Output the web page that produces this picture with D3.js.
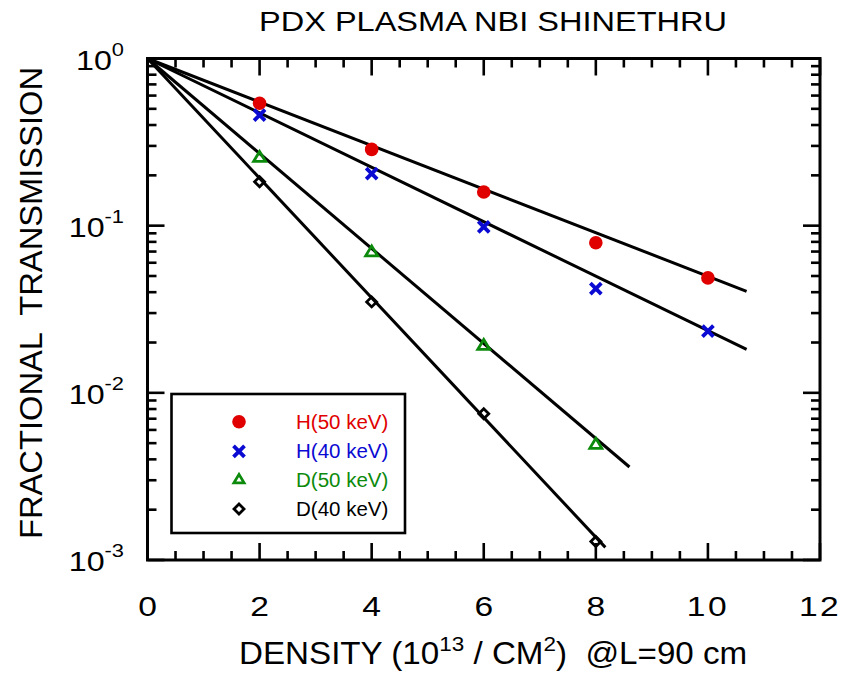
<!DOCTYPE html>
<html><head><meta charset="utf-8">
<script src="https://cdn.jsdelivr.net/npm/d3@7"></script>
<style>
html,body{margin:0;padding:0;background:#fff;}
text{font-family:"Liberation Sans",Arial,Helvetica,sans-serif;white-space:pre;}
</style></head>
<body>
<svg id="chart" width="847" height="673"></svg>
<script>
// ---- data ----
const densities = [2, 4, 6, 8, 10];
const seriesNames = ["H(50 keV)", "H(40 keV)", "D(50 keV)", "D(40 keV)"];
const h50 = [0.54, 0.286, 0.159, 0.079, 0.0487];
const h40 = [0.459, 0.205, 0.0984, 0.042, 0.0234];
const d50 = [0.256, 0.0697, 0.0192, 0.00492];
const d40 = [0.183, 0.035, 0.0075, 0.00129];
// fitted exponential lines: [start, end] as [density, transmission]
const fitH50 = [[0, 1], [10.69, 0.0405]];
const fitH40 = [[0, 1], [10.69, 0.0182]];
const fitD50 = [[0, 1], [8.60, 0.0036]];
const fitD40 = [[0, 1], [8.17, 0.00119]];
const xMajorTicks = [0, 2, 4, 6, 8, 10, 12];
const yExponents = [0, -1, -2, -3];

const colors = ["#e00000", "#0a0ad2", "#0c8a0c", "#000000"];
const shapes = ["circle", "cross", "triangle", "diamond"];
const seriesVals = [h50, h40, d50, d40];
const fits = [fitH50, fitH40, fitD50, fitD40];

const svg = d3.select("#chart");
const x = d3.scaleLinear().domain([0, 12]).range([147.5, 820]);
const y = d3.scaleLog().domain([1e-3, 1]).range([560, 58.5]);

// fitted lines
const line = d3.line().x(d => x(d[0])).y(d => y(d[1]));
svg.append("g").selectAll("path").data(fits).join("path")
  .attr("d", line).attr("fill", "none").attr("stroke", "#000").attr("stroke-width", 3);

// markers
function drawMarker(g, shape, color, s) {
  if (shape === "circle") {
    g.append("circle").attr("r", 6.8 * s).attr("fill", color);
  } else if (shape === "cross") {
    const a = 5.5 * s;
    g.append("path").attr("d", `M${-a},${-a}L${a},${a}M${-a},${a}L${a},${-a}`)
      .attr("stroke", color).attr("stroke-width", 3.8).attr("fill", "none");
  } else if (shape === "triangle") {
    const w = 6 * s, h = 10 * s;
    g.append("path").attr("d", `M0,${-h * 0.6}L${w},${h * 0.4}L${-w},${h * 0.4}Z`)
      .attr("stroke", color).attr("stroke-width", 2.8).attr("fill", "none");
  } else {
    const a = 5 * s;
    g.append("path").attr("d", `M0,${-a}L${a},0L0,${a}L${-a},0Z`)
      .attr("stroke", color).attr("stroke-width", 2.8).attr("fill", "none");
  }
}
seriesVals.forEach((vals, i) => {
  vals.forEach((v, j) => {
    const g = svg.append("g").attr("transform", `translate(${x(densities[j])},${y(v)})`);
    drawMarker(g, shapes[i], colors[i], 1);
  });
});

// frame
svg.append("rect").attr("x", x(0)).attr("y", y(1))
  .attr("width", x(12) - x(0)).attr("height", y(1e-3) - y(1))
  .attr("fill", "none").attr("stroke", "#000").attr("stroke-width", 3);

// x ticks (bottom & top)
const xMinor = d3.range(0, 12.01, 0.5);
const tg = svg.append("g").attr("stroke", "#000").attr("stroke-width", 2.6);
xMinor.forEach(v => {
  const major = Math.abs(v / 2 - Math.round(v / 2)) < 1e-9;
  const len = major ? 17 : 9;
  tg.append("line").attr("x1", x(v)).attr("x2", x(v)).attr("y1", y(1e-3)).attr("y2", y(1e-3) - len);
  tg.append("line").attr("x1", x(v)).attr("x2", x(v)).attr("y1", y(1)).attr("y2", y(1) + len);
});
// y ticks (left & right)
y.ticks().forEach(v => {
  const e = Math.log10(v);
  const major = Math.abs(e - Math.round(e)) < 1e-9;
  const len = major ? 17 : 9;
  tg.append("line").attr("x1", x(0)).attr("x2", x(0) + len).attr("y1", y(v)).attr("y2", y(v));
  tg.append("line").attr("x1", x(12)).attr("x2", x(12) - len).attr("y1", y(v)).attr("y2", y(v));
});

// x tick labels
xMajorTicks.forEach(v => {
  svg.append("g").attr("transform", `translate(${x(v)},616) scale(1.2,1)`)
    .append("text").attr("text-anchor", "middle").attr("font-size", 28)
    .attr("letter-spacing", v >= 10 ? 2 : 0).text(v);
});
// y tick labels
yExponents.forEach(e => {
  const t = svg.append("g").attr("transform", `translate(124,${y(Math.pow(10, e)) + 11}) scale(1.15,1)`)
    .append("text").attr("text-anchor", "end").attr("font-size", 28);
  t.append("tspan").text("10");
  t.append("tspan").attr("font-size", 19).attr("dy", -14).text(String(e));
});

// title
svg.append("text").attr("x", 493).attr("y", 31).attr("text-anchor", "middle")
  .attr("font-size", 27).attr("textLength", 468).attr("lengthAdjust", "spacingAndGlyphs")
  .text("PDX PLASMA NBI SHINETHRU");

// y label
svg.append("text").attr("transform", "translate(42,303) rotate(-90)")
  .attr("text-anchor", "middle").attr("font-size", 31)
  .attr("textLength", 472).attr("lengthAdjust", "spacingAndGlyphs")
  .text("FRACTIONAL  TRANSMISSION");

// x label
const xl = svg.append("g").attr("transform", "translate(239,664) scale(1.07,1)")
  .append("text").attr("x", 0).attr("y", 0).attr("font-size", 31);
xl.append("tspan").text("DENSITY (10");
xl.append("tspan").attr("font-size", 21).attr("dy", -13).text("13");
xl.append("tspan").attr("dy", 13).text(" / CM");
xl.append("tspan").attr("font-size", 21).attr("dy", -13).text("2");
xl.append("tspan").attr("dy", 13).text(")  @L=90 cm");

// legend
const lg = svg.append("g");
lg.append("rect").attr("x", 171.5).attr("y", 394).attr("width", 233.5).attr("height", 139)
  .attr("fill", "#fff").attr("stroke", "#000").attr("stroke-width", 2.6);
const rowY = [421.7, 451.3, 479.5, 509];
seriesNames.forEach((name, i) => {
  const g = lg.append("g").attr("transform", `translate(239,${rowY[i]})`);
  drawMarker(g, shapes[i], colors[i], i === 2 ? 0.85 : 1);
  lg.append("text").attr("x", 296).attr("y", rowY[i] + 7).attr("font-size", 20.5)
    .attr("fill", colors[i]).text(name);
});
</script>
</body></html>
